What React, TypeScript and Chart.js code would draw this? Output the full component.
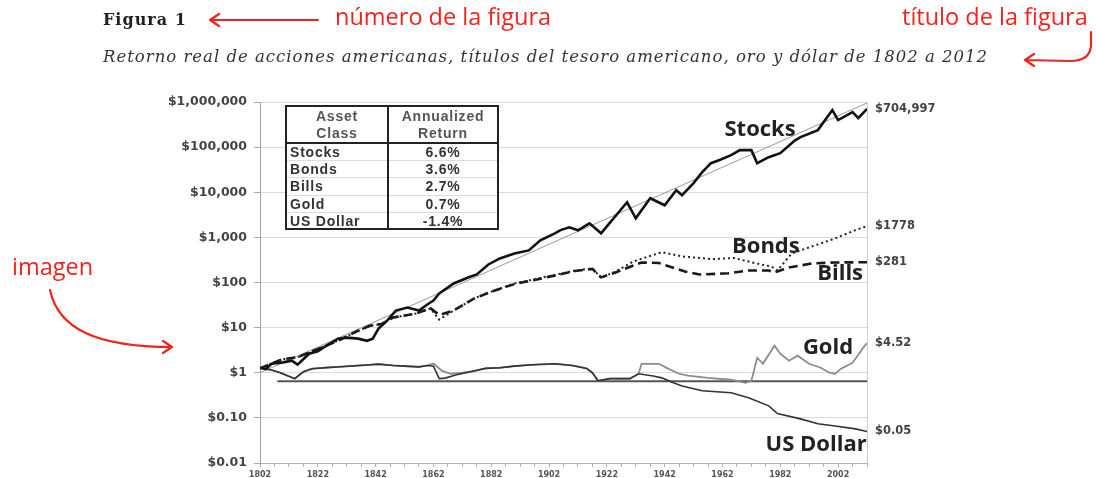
import React, { useEffect, useRef } from "react";
import { Chart, registerables } from "chart.js";
Chart.register(...registerables);

// ---------- DATA ----------
const stockYears = [1802, 1804, 1806, 1810, 1813, 1815, 1819, 1822, 1825, 1829, 1832, 1836, 1839, 1841, 1843, 1846, 1849, 1853, 1857, 1860, 1862, 1864, 1869, 1874, 1877, 1881, 1885, 1890, 1895, 1899, 1904, 1906, 1909, 1912, 1916, 1920, 1922, 1929, 1932, 1937, 1942, 1946, 1948, 1952, 1955, 1958, 1961, 1965, 1968, 1972, 1974, 1978, 1982, 1987, 1989, 1995, 2000, 2002, 2007, 2009, 2012];
const stockValues = [1.29, 1.2, 1.58, 1.7, 1.85, 1.51, 2.64, 3.0, 3.98, 5.7, 6.0, 5.7, 5.1, 5.7, 9.5, 14.3, 23.9, 27.8, 23.9, 33, 39.8, 57, 95, 129, 151, 251, 341, 441, 514, 858, 1228, 1450, 1668, 1431, 2047, 1228, 1755, 5995, 2643, 7356, 5140, 11080, 8580, 16000, 27826, 44100, 52000, 66400, 85800, 85800, 44100, 59900, 73500, 140000, 166800, 238600, 664000, 398000, 599000, 441000, 704997];

const bondYears = [1802, 1806, 1810, 1815, 1820, 1825, 1830, 1835, 1840, 1844, 1848, 1856, 1861, 1864, 1869, 1876, 1883, 1890, 1900, 1911, 1917, 1920, 1925, 1931, 1941, 1948, 1958, 1966, 1973, 1979, 1981, 1986, 1992, 2001, 2008, 2012];
const bondValues = [1.25, 1.6, 2.0, 2.2, 3.0, 4.0, 5.5, 8.0, 11.0, 12.0, 16.7, 20.5, 26.5, 15.0, 23.9, 44, 66, 95, 130, 184, 205, 128, 175, 290, 470, 380, 330, 350, 270, 225, 185, 441, 600, 950, 1450, 1778];

const billYears = [1802, 1806, 1810, 1815, 1820, 1825, 1830, 1835, 1840, 1844, 1848, 1856, 1861, 1864, 1869, 1876, 1883, 1890, 1900, 1911, 1917, 1920, 1925, 1934, 1940, 1949, 1954, 1964, 1971, 1978, 1980, 1985, 1993, 2001, 2012];
const billValues = [1.25, 1.6, 2.0, 2.2, 3.0, 4.0, 5.5, 8.0, 11.0, 12.0, 16.7, 20.5, 27, 19, 23.9, 44, 66, 92, 125, 180, 200, 130, 167, 278, 270, 175, 150, 160, 185, 185, 167, 215, 264, 278, 281];

const dollarYears = [1802, 1806, 1809, 1814, 1817, 1820, 1825, 1830, 1835, 1840, 1843, 1848, 1852, 1857, 1860, 1862, 1864, 1866, 1870, 1875, 1880, 1885, 1890, 1896, 1904, 1910, 1915, 1917, 1919, 1923, 1930, 1933, 1938, 1941, 1945, 1948, 1955, 1965, 1971, 1978, 1981, 1989, 1995, 2001, 2008, 2012];
const dollarValues = [1.29, 1.15, 1.0, 0.74, 1.05, 1.23, 1.3, 1.36, 1.43, 1.5, 1.55, 1.45, 1.4, 1.35, 1.45, 1.4, 0.74, 0.76, 0.9, 1.05, 1.25, 1.29, 1.4, 1.5, 1.58, 1.45, 1.25, 1.0, 0.66, 0.74, 0.74, 0.95, 0.85, 0.77, 0.6, 0.51, 0.4, 0.36, 0.28, 0.185, 0.125, 0.095, 0.074, 0.066, 0.057, 0.05];

const goldYears = [1802, 1806, 1809, 1814, 1817, 1820, 1825, 1830, 1835, 1840, 1843, 1848, 1852, 1857, 1860, 1862, 1865, 1868, 1872, 1876, 1880, 1885, 1890, 1896, 1904, 1910, 1915, 1917, 1919, 1923, 1930, 1933, 1934, 1940, 1943, 1947, 1950, 1957, 1965, 1970, 1972, 1974, 1976, 1980, 1982, 1985, 1988, 1992, 1996, 1999, 2001, 2003, 2007, 2009, 2011, 2012];
const goldValues = [1.29, 1.15, 1.0, 0.74, 1.05, 1.23, 1.3, 1.36, 1.43, 1.5, 1.55, 1.45, 1.4, 1.35, 1.45, 1.6, 1.1, 0.95, 1.0, 1.1, 1.25, 1.29, 1.4, 1.5, 1.58, 1.45, 1.25, 1.0, 0.66, 0.74, 0.74, 0.95, 1.58, 1.58, 1.25, 0.95, 0.86, 0.77, 0.7, 0.6, 0.66, 2.15, 1.58, 3.98, 2.64, 1.85, 2.39, 1.58, 1.29, 1.0, 0.95, 1.23, 1.67, 2.5, 3.8, 4.52];

const trendYears = [1802, 2012];
const trendValues = [1.0, 950000];

const refYears = [1808, 2012];
const refValues = [0.65, 0.65];

const yTickValues = [0.01, 0.1, 1, 10, 100, 1000, 10000, 100000, 1000000];
const yTickLabels = ["$0.01", "$0.10", "$1", "$10", "$100", "$1,000", "$10,000", "$100,000", "$1,000,000"];
const xLabelYears = [1802, 1822, 1842, 1862, 1882, 1902, 1922, 1942, 1962, 1982, 2002];

const endLabels = ["$704,997", "$1778", "$281", "$4.52", "$0.05"];
const endValues = [704997, 1778, 281, 4.52, 0.05];

const seriesNames = ["Stocks", "Bonds", "Bills", "Gold", "US Dollar"];
const seriesNameYears = [1975, 1977, 2002.7, 1998.5, 1994.4];
const seriesNameValues = [240000, 630, 158, 3.6, 0.025];

const tableHeader1 = ["Asset", "Class"];
const tableHeader2 = ["Annualized", "Return"];
const tableAssets = ["Stocks", "Bonds", "Bills", "Gold", "US Dollar"];
const tableReturns = ["6.6%", "3.6%", "2.7%", "0.7%", "-1.4%"];

const figureNumber = "Figura 1";
const figureTitle = "Retorno real de acciones americanas, títulos del tesoro americano, oro y dólar de 1802 a 2012";
const noteNumber = "número de la figura";
const noteTitle = "título de la figura";
const noteImage = "imagen";

const toPoints = (xs: number[], ys: number[]) => xs.map((x, i) => ({ x, y: ys[i] }));

const RED = "#f2231d";

const overlayPlugin = {
  id: "overlay",
  afterDraw(chart: any) {
    const ctx: any = chart.ctx;
    const { right, top, bottom } = chart.chartArea;
    const xs = chart.scales.x;
    const ys = chart.scales.y;
    ctx.save();

    // right border of plot
    ctx.strokeStyle = "#cfcfcf";
    ctx.lineWidth = 1;
    ctx.beginPath();
    ctx.moveTo(Math.round(right) + 0.5, top);
    ctx.lineTo(Math.round(right) + 0.5, bottom);
    ctx.stroke();

    // table
    const tx0 = 286, tx1 = 498, txm = 388, ty0 = 106, tyh = 143, ty1 = 229;
    ctx.fillStyle = "#fff";
    ctx.fillRect(tx0, ty0, tx1 - tx0, ty1 - ty0);
    const rowH = (ty1 - tyh) / tableAssets.length;
    ctx.strokeStyle = "#dcdcdc";
    ctx.lineWidth = 1;
    for (let i = 1; i < tableAssets.length; i++) {
      const yy = Math.round(tyh + rowH * i) + 0.5;
      ctx.beginPath();
      ctx.moveTo(tx0, yy);
      ctx.lineTo(tx1, yy);
      ctx.stroke();
    }
    ctx.strokeStyle = "#222";
    ctx.lineWidth = 2;
    ctx.strokeRect(tx0, ty0, tx1 - tx0, ty1 - ty0);
    ctx.beginPath();
    ctx.moveTo(txm, ty0);
    ctx.lineTo(txm, ty1);
    ctx.moveTo(tx0, tyh);
    ctx.lineTo(tx1, tyh);
    ctx.stroke();

    ctx.font = 'bold 14px "Liberation Sans"';
    ctx.letterSpacing = "0.8px";
    ctx.textBaseline = "middle";
    ctx.textAlign = "center";
    ctx.fillStyle = "#555";
    ctx.fillText(tableHeader1[0], (tx0 + txm) / 2, 117);
    ctx.fillText(tableHeader1[1], (tx0 + txm) / 2, 134);
    ctx.fillText(tableHeader2[0], (txm + tx1) / 2, 117);
    ctx.fillText(tableHeader2[1], (txm + tx1) / 2, 134);
    ctx.fillStyle = "#333";
    for (let i = 0; i < tableAssets.length; i++) {
      const yy = tyh + rowH * (i + 0.5) + 1.5;
      ctx.textAlign = "left";
      ctx.fillText(tableAssets[i], tx0 + 4, yy);
      ctx.textAlign = "center";
      ctx.fillText(tableReturns[i], (txm + tx1) / 2, yy);
    }
    ctx.letterSpacing = "0px";

    // end labels
    ctx.font = 'bold 11.5px "DejaVu Sans"';
    ctx.fillStyle = "#444";
    ctx.textAlign = "left";
    for (let i = 0; i < endLabels.length; i++) {
      ctx.fillText(endLabels[i], right + 8, ys.getPixelForValue(endValues[i]));
    }

    // series names
    ctx.font = 'bold 22px "Open Sans"';
    ctx.fillStyle = "#222";
    ctx.textAlign = "center";
    for (let i = 0; i < seriesNames.length; i++) {
      ctx.fillText(seriesNames[i], xs.getPixelForValue(seriesNameYears[i]), ys.getPixelForValue(seriesNameValues[i]));
    }

    // page annotations
    ctx.textAlign = "left";
    ctx.fillStyle = "#222";
    ctx.font = 'bold 16px "DejaVu Serif"';
    ctx.letterSpacing = "1px";
    ctx.fillText(figureNumber, 103, 21);
    ctx.font = 'italic 16.5px "DejaVu Serif"';
    ctx.letterSpacing = "1px";
    ctx.fillStyle = "#333";
    ctx.fillText(figureTitle, 103, 58);
    ctx.letterSpacing = "0px";

    ctx.fillStyle = RED;
    ctx.strokeStyle = RED;
    ctx.font = '500 23.5px "Open Sans"';
    ctx.fillText(noteNumber, 335, 18);
    ctx.fillText(noteTitle, 902, 18);
    ctx.fillText(noteImage, 12, 268);

    ctx.lineWidth = 2.2;
    ctx.lineCap = "round";
    ctx.lineJoin = "round";
    // arrow to figure number
    ctx.beginPath();
    ctx.moveTo(318, 20);
    ctx.lineTo(210, 20);
    ctx.moveTo(219, 14);
    ctx.lineTo(210, 20);
    ctx.lineTo(219, 26);
    ctx.stroke();
    // arrow to title
    ctx.beginPath();
    ctx.moveTo(1091, 32);
    ctx.lineTo(1091, 44);
    ctx.quadraticCurveTo(1091, 61, 1070, 61);
    ctx.lineTo(1025, 60);
    ctx.moveTo(1034, 54);
    ctx.lineTo(1025, 60);
    ctx.lineTo(1034, 66);
    ctx.stroke();
    // arrow to image
    ctx.beginPath();
    ctx.moveTo(50, 290);
    ctx.bezierCurveTo(58, 328, 95, 347, 172, 347);
    ctx.moveTo(163, 341);
    ctx.lineTo(172, 347);
    ctx.lineTo(163, 353);
    ctx.stroke();

    ctx.restore();
  },
};

export default function App() {
  const ref = useRef<HTMLCanvasElement | null>(null);
  useEffect(() => {
    if (!ref.current) return;
    const base = { pointRadius: 0, tension: 0, fill: false };
    const chart = new Chart(ref.current, {
      type: "line",
      data: {
        datasets: [
          { ...base, label: "Stocks", data: toPoints(stockYears, stockValues), borderColor: "#111", borderWidth: 2.6 },
          { ...base, label: "Bonds", data: toPoints(bondYears, bondValues), borderColor: "#222", borderWidth: 2, borderDash: [2, 3] },
          { ...base, label: "Bills", data: toPoints(billYears, billValues), borderColor: "#1a1a1a", borderWidth: 2.6, borderDash: [9, 5] },
          { ...base, label: "US Dollar", data: toPoints(dollarYears, dollarValues), borderColor: "#333", borderWidth: 1.6 },
          { ...base, label: "Gold", data: toPoints(goldYears, goldValues), borderColor: "#8c8c8c", borderWidth: 1.8 },
          { ...base, label: "Trend", data: toPoints(trendYears, trendValues), borderColor: "#9a9a9a", borderWidth: 1 },
          { ...base, label: "Ref", data: toPoints(refYears, refValues), borderColor: "#555", borderWidth: 2 },
        ],
      },
      options: {
        animation: false,
        responsive: false,
        events: [],
        layout: { padding: { left: 160, right: 229, top: 102, bottom: 0 } },
        plugins: { legend: { display: false }, tooltip: { enabled: false }, title: { display: false } },
        scales: {
          x: {
            type: "linear",
            min: 1802,
            max: 2012,
            afterBuildTicks: (s: any) => {
              const t: any[] = [];
              for (let v = 1802; v <= 2012; v += 5) t.push({ value: v });
              s.ticks = t;
            },
            afterFit: (s: any) => {
              s.height = 15;
            },
            ticks: {
              autoSkip: false,
              maxRotation: 0,
              padding: 3,
              color: "#555",
              font: { family: "DejaVu Sans", size: 8, weight: "bold" },
              callback: (v: any) => (xLabelYears.includes(v) ? String(v) : ""),
            },
            grid: { drawOnChartArea: false, tickLength: 4, color: "#b0b0b0" },
            border: { color: "#b5b5b5" },
          },
          y: {
            type: "logarithmic",
            min: 0.01,
            max: 1000000,
            afterBuildTicks: (s: any) => {
              s.ticks = yTickValues.map((v) => ({ value: v }));
            },
            afterFit: (s: any) => {
              s.width = 100;
            },
            ticks: {
              padding: 7,
              color: "#444",
              font: { family: "DejaVu Sans", size: 12.5, weight: "bold" },
              callback: (_v: any, i: number) => yTickLabels[i],
            },
            grid: { color: "#dadada", tickColor: "#a8a8a8", tickLength: 6 },
            border: { color: "#a5a5a5" },
          },
        },
      },
      plugins: [overlayPlugin],
    });
    return () => chart.destroy();
  }, []);
  return (
    <div style={{ position: "absolute", left: 0, top: 0, width: 1096, height: 478, background: "#fff" }}>
      <canvas ref={ref} width={1096} height={478} style={{ display: "block" }} />
    </div>
  );
}
